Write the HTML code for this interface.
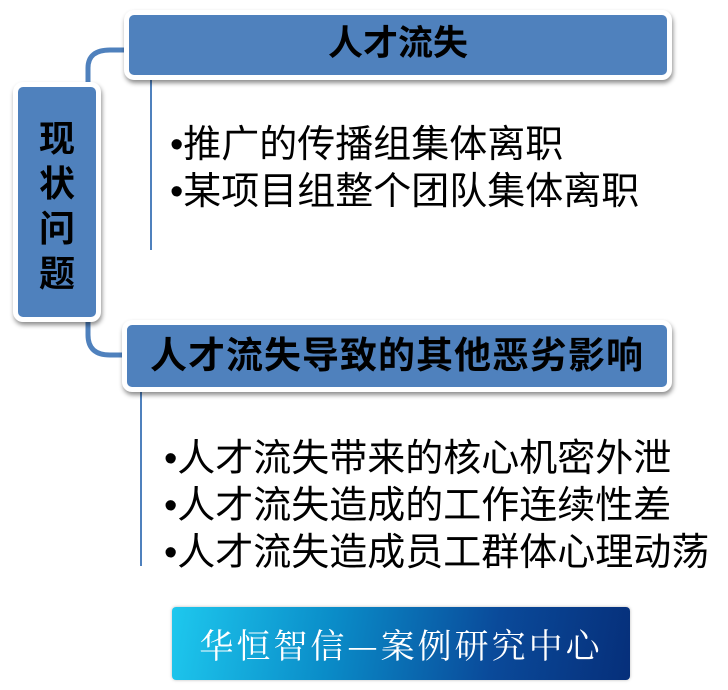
<!DOCTYPE html>
<html><head><meta charset="utf-8"><style>
body{margin:0;width:728px;height:690px;background:#fff;position:relative;overflow:hidden;font-family:"Liberation Sans","Noto Sans CJK SC",sans-serif;}
.box{position:absolute;background:#4f81bd;border:5px solid #fff;border-radius:10px;box-shadow:1px 3px 5px rgba(0,0,0,.45);box-sizing:border-box;}
.h{color:#000;font-weight:bold;text-align:center;position:absolute;white-space:nowrap;}
.t{position:absolute;font-size:38px;line-height:47px;color:#000;white-space:nowrap;}
</style></head><body>
<svg width="728" height="690" style="position:absolute;left:0;top:0">
<path d="M88 88 V68 Q88 50 110 50 H130" fill="none" stroke="#4f81bd" stroke-width="5"/>
<path d="M88 312 V335 Q88 355 110 355 H130" fill="none" stroke="#4f81bd" stroke-width="5"/>
<line x1="151" y1="79" x2="151" y2="250" stroke="#4f81bd" stroke-width="2"/>
<line x1="141" y1="392" x2="141" y2="566" stroke="#4f81bd" stroke-width="2"/>
</svg>
<div class="box" style="left:124px;top:10px;width:548px;height:70px;"></div>
<div class="h" style="left:124px;top:20px;width:548px;font-size:35px;line-height:48px;">人才流失</div>
<div class="box" style="left:13px;top:82px;width:88px;height:240px;"></div>
<div class="h" style="left:13px;top:116px;width:88px;font-size:36px;line-height:45px;">现<br>状<br>问<br>题</div>
<div class="box" style="left:122px;top:320px;width:550px;height:72px;"></div>
<div class="h" style="left:122px;top:332px;width:550px;font-size:37px;line-height:48px;letter-spacing:1px;">人才流失导致的其他恶劣影响</div>
<div class="t" style="left:170px;top:122px;">•推广的传播组集体离职<br>•某项目组整个团队集体离职</div>
<div class="t" style="left:164px;top:436px;">•人才流失带来的核心机密外泄<br>•人才流失造成的工作连续性差<br>•人才流失造成员工群体心理动荡</div>
<div style="position:absolute;left:172px;top:607px;width:458px;height:73px;border-radius:4px;background:linear-gradient(100deg,#1ec8ee 0%,#0a8cc8 35%,#0a4a9a 70%,#062f7a 100%);box-shadow:0 0 3px #bbb;"></div>
<div style="position:absolute;left:172px;top:621px;width:458px;text-align:center;color:#fff;font-size:34px;line-height:46px;font-family:'Noto Serif CJK SC','Noto Sans CJK SC',serif;letter-spacing:3px;white-space:nowrap;">华恒智信—案例研究中心</div>
</body></html>
